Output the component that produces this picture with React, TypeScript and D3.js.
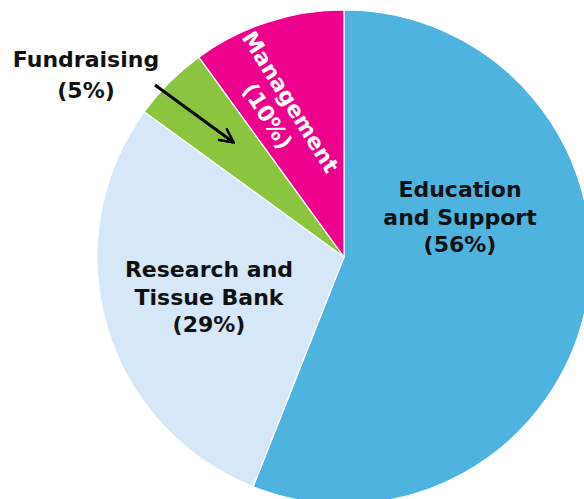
import { useEffect, useRef } from 'react';
import * as d3 from 'd3';

const categories = ['Education and Support', 'Research and Tissue Bank', 'Fundraising', 'Management'];
const values = [56, 29, 5, 10];
const labelLines = [
  ['Education', 'and Support', '(56%)'],
  ['Research and', 'Tissue Bank', '(29%)'],
  ['Fundraising', '(5%)'],
  ['Management', '(10%)'],
];
const colors = ['#4fb3df', '#d6e8f7', '#8bc53f', '#ec008c'];

export default function App() {
  const svgRef = useRef<SVGSVGElement>(null);

  const width = 584;
  const height = 499;

  useEffect(() => {
    const svg = d3.select(svgRef.current);
    svg.selectAll('*').remove();

    const cx = 344;
    const cy = 257;
    const radius = 247;

    const pie = d3.pie<number>().sort(null).value(d => d)(values);
    const arc = d3.arc<d3.PieArcDatum<number>>().innerRadius(0).outerRadius(radius);

    const g = svg.append('g').attr('transform', `translate(${cx},${cy})`);

    g.selectAll('path')
      .data(pie)
      .enter()
      .append('path')
      .attr('d', arc)
      .style('fill', (d, i) => colors[i])
      .style('stroke', 'white')
      .style('stroke-width', 1.2);

    // label placement (offset from pie center), first baseline, line step, rotation
    const labelLayout = [
      { dx: 116, dy: -60, step: 27.5, rot: 0, fill: '#111' },
      { dx: -135, dy: 20, step: 27.5, rot: 0, fill: '#111' },
      { dx: -258, dy: -190, step: 31, rot: 0, fill: '#111' },
      { dx: -65, dy: -148, step: 27, rot: 58, fill: 'white' },
    ];

    categories.forEach((cat, i) => {
      const lay = labelLayout[i];
      const lines = labelLines[i];
      const t = g.append('text')
        .attr('transform', `translate(${lay.dx},${lay.dy}) rotate(${lay.rot})`)
        .attr('text-anchor', 'middle')
        .style('font-family', '"DejaVu Sans", sans-serif')
        .style('font-weight', 'bold')
        .style('font-size', '22px')
        .style('fill', lay.fill);
      // rotated label is centred on its anchor, others use baselines
      const offset = lay.rot ? -((lines.length - 1) * lay.step) / 2 : 0;
      lines.forEach((ln, j) => {
        t.append('tspan')
          .attr('x', 0)
          .attr('y', offset + j * lay.step)
          .attr('dy', lay.rot ? '0.35em' : 0)
          .text(ln);
      });
      t.append('title').text(cat);
    });

    // arrow pointing to Fundraising slice
    svg.append('defs').append('marker')
      .attr('id', 'arrowhead')
      .attr('viewBox', '0 0 10 10')
      .attr('refX', 8.5)
      .attr('refY', 5)
      .attr('markerWidth', 6)
      .attr('markerHeight', 6)
      .attr('orient', 'auto')
      .append('path')
      .attr('d', 'M1,1 L9,5 L1,9')
      .style('fill', 'none')
      .style('stroke', 'black')
      .style('stroke-width', 1.4);

    svg.append('line')
      .attr('x1', 155)
      .attr('y1', 85)
      .attr('x2', 233)
      .attr('y2', 142)
      .style('stroke', 'black')
      .style('stroke-width', 3)
      .attr('marker-end', 'url(#arrowhead)');
  }, []);

  return (
    <svg
      ref={svgRef}
      width={width}
      height={height}
      style={{ position: 'absolute', top: 0, left: 0, background: 'white' }}
    />
  );
}
